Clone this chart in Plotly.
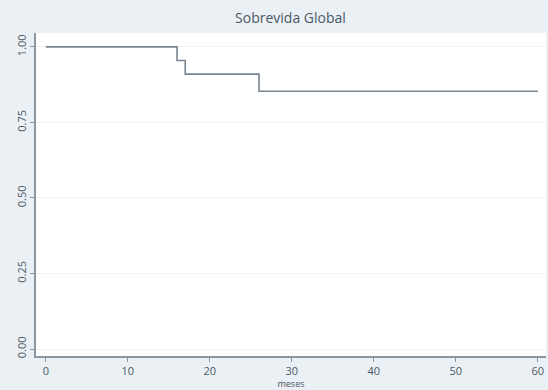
import plotly.graph_objects as go

# Kaplan-Meier estimate: survival probability at each step start (months)
step_times = [0, 16, 17, 26, 60]
survival = [1.0, 0.955, 0.91, 0.853, 0.853]

x_ticks = [0, 10, 20, 30, 40, 50, 60]
y_ticks = [0.0, 0.25, 0.5, 0.75, 1.0]
y_tick_labels = ["0.00", "0.25", "0.50", "0.75", "1.00"]

line_color = "#7a8591"
axis_color = "#8a96a2"
text_color = "#4a5866"
outer_bg = "#eaf0f4"

fig = go.Figure()
fig.add_trace(go.Scatter(
    x=step_times, y=survival, mode="lines",
    line=dict(shape="hv", color=line_color, width=1.6),
    showlegend=False,
))

fig.update_layout(
    width=548, height=390,
    margin=dict(l=36, r=2, t=33, b=34),
    paper_bgcolor=outer_bg,
    plot_bgcolor="white",
    font=dict(family="Open Sans, sans-serif", color=text_color, size=11),
    title=dict(text="Sobrevida Global", x=0.53, xanchor="center", y=0.953,
               yanchor="middle", font=dict(size=14, color=text_color)),
    xaxis=dict(
        range=[-1.2, 61.0], tickvals=x_ticks, ticks="outside", ticklen=4,
        tickcolor=axis_color, showline=True, linecolor=axis_color, linewidth=1.5,
        showgrid=False, zeroline=False, tickfont=dict(size=11),
        ticklabelstandoff=0,
        title=dict(text="meses", font=dict(size=9), standoff=3),
    ),
    yaxis=dict(
        range=[-0.023, 1.046], tickvals=y_ticks, ticktext=y_tick_labels,
        tickangle=-90, ticks="outside", ticklen=4, tickcolor=axis_color,
        showline=True, linecolor=axis_color, linewidth=1.5,
        showgrid=True, gridcolor="#f1f4f6", zeroline=False,
        tickfont=dict(size=11),
    ),
)

fig.write_html("out.html")
